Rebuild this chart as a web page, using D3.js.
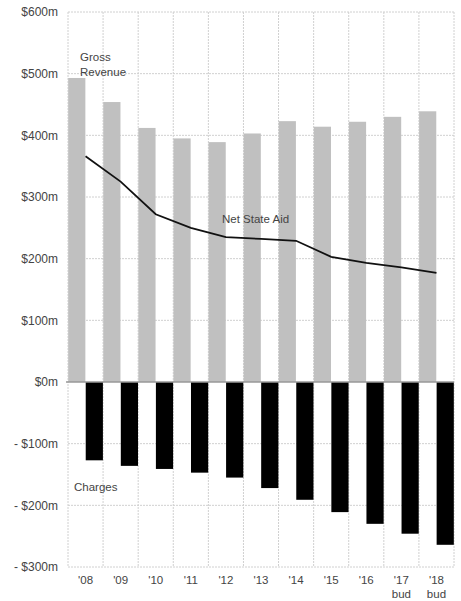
<!DOCTYPE html>
<html>
<head>
<meta charset="utf-8">
<script src="https://cdn.jsdelivr.net/npm/d3@7"></script>
<style>
  html, body { margin: 0; padding: 0; background: #fff; }
  svg text { font-family: "Liberation Sans", Arial, sans-serif; }
</style>
</head>
<body>
<svg id="chart" width="461" height="601"></svg>
<script>
const years = ["'08", "'09", "'10", "'11", "'12", "'13", "'14", "'15", "'16", "'17", "'18"];
const subLabels = ["", "", "", "", "", "", "", "", "", "bud", "bud"];
const grossRevenue = [493, 454, 412, 395, 389, 403, 423, 414, 422, 430, 439];
const netStateAid = [366, 325, 272, 250, 235, 232, 229, 203, 193, 186, 177];
const charges = [-127, -136, -141, -147, -155, -172, -191, -211, -230, -246, -264];
const yTicks = [-300, -200, -100, 0, 100, 200, 300, 400, 500, 600];

const svg = d3.select("#chart");
const margin = { left: 68, right: 7, top: 12, bottom: 34 };
const W = 461, H = 601;
const x0 = margin.left, x1 = W - margin.right;
const yTop = margin.top, yBot = H - margin.bottom;

const x = d3.scaleBand().domain(years).range([x0, x1]).padding(0);
const inner = d3.scaleBand().domain(["g", "c"]).range([0, x.bandwidth()]).paddingInner(0.02).paddingOuter(0.01);
const y = d3.scaleLinear().domain([-300, 600]).range([yBot, yTop]);

const fmt = v => v < 0 ? "- $" + Math.abs(v) + "m" : "$" + v + "m";

// horizontal gridlines
svg.append("g").selectAll("line").data(yTicks.filter(v => v !== 0)).join("line")
  .attr("x1", x0).attr("x2", x1)
  .attr("y1", d => y(d)).attr("y2", d => y(d))
  .attr("stroke", "#d0d0d0").attr("stroke-width", 1).attr("stroke-dasharray", "2,1");

// vertical gridlines at band edges
const edges = years.map(d => x(d)).concat([x1]);
svg.append("g").selectAll("line").data(edges).join("line")
  .attr("x1", d => d).attr("x2", d => d)
  .attr("y1", yTop).attr("y2", yBot)
  .attr("stroke", "#d0d0d0").attr("stroke-width", 1).attr("stroke-dasharray", "2,1");

// y axis labels
svg.append("g").selectAll("text").data(yTicks).join("text")
  .attr("x", x0 - 10).attr("y", d => y(d)).attr("dy", "0.35em")
  .attr("text-anchor", "end").attr("font-size", 12).attr("fill", "#444")
  .text(fmt);

// gross revenue bars
svg.append("g").selectAll("rect").data(grossRevenue).join("rect")
  .attr("x", (d, i) => x(years[i]) + inner("g"))
  .attr("width", inner.bandwidth())
  .attr("y", d => y(d)).attr("height", d => y(0) - y(d))
  .attr("fill", "#c0c0c0");

// charges bars
svg.append("g").selectAll("rect").data(charges).join("rect")
  .attr("x", (d, i) => x(years[i]) + inner("c"))
  .attr("width", inner.bandwidth())
  .attr("y", y(0)).attr("height", d => y(d) - y(0))
  .attr("fill", "#000");

// zero line
svg.append("line")
  .attr("x1", x0 - 2).attr("x2", x1)
  .attr("y1", y(0)).attr("y2", y(0))
  .attr("stroke", "#999").attr("stroke-width", 1.5);

// net state aid line
const line = d3.line()
  .x((d, i) => x(years[i]) + x.bandwidth() / 2)
  .y(d => y(d));
svg.append("path").datum(netStateAid)
  .attr("d", line).attr("fill", "none")
  .attr("stroke", "#111").attr("stroke-width", 1.8);

// x labels
const xl = svg.append("g").selectAll("g").data(years).join("g")
  .attr("transform", d => `translate(${x(d) + x.bandwidth() / 2},0)`);
xl.append("text").attr("y", yBot + 17).attr("text-anchor", "middle")
  .attr("font-size", 11.5).attr("fill", "#444").text(d => d);
xl.append("text").attr("y", yBot + 31).attr("text-anchor", "middle")
  .attr("font-size", 11.5).attr("fill", "#444").text((d, i) => subLabels[i]);

// annotations
const ann = svg.append("g").attr("font-size", 11.5).attr("fill", "#444");
ann.append("text").attr("x", 80).attr("y", 61).text("Gross");
ann.append("text").attr("x", 80).attr("y", 76).text("Revenue");
ann.append("text").attr("x", 222).attr("y", 223).text("Net State Aid");
ann.append("text").attr("x", 74).attr("y", 491).text("Charges");
</script>
</body>
</html>
